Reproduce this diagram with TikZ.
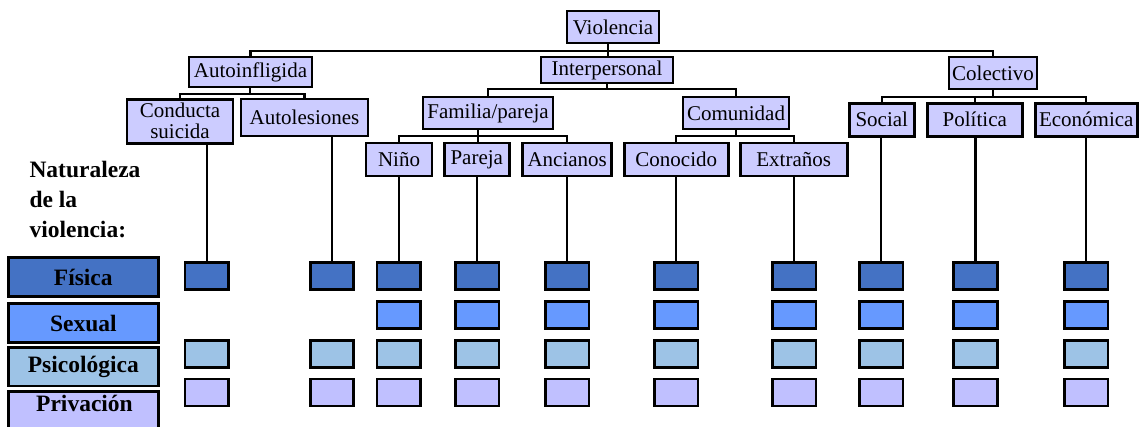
\documentclass[tikz,border=0pt]{standalone}
\usepackage{fontspec}
\setmainfont{Liberation Serif}
\definecolor{nodefill}{HTML}{CCCCFF}
\definecolor{fis}{HTML}{4472C4}
\definecolor{sex}{HTML}{6699FF}
\definecolor{psi}{HTML}{9DC3E6}
\definecolor{pri}{HTML}{C0C0FF}
\begin{document}
\begin{tikzpicture}[x=1pt,y=-1pt,
 cat/.style={draw=black, line width=2.7pt, fill=nodefill, inner sep=0pt, font=\fontsize{21}{21}\selectfont, align=center},
 conn/.style={line width=2.3pt},
 sq/.style={draw=black, line width=2.7pt, minimum width=43.5pt, minimum height=27pt, inner sep=0pt},
 leg/.style={draw=black, line width=2.7pt, minimum width=150pt, inner sep=0pt, font=\fontsize{23.5}{24}\selectfont\bfseries},
 legtxt/.style={inner sep=0pt, font=\fontsize{23.5}{24}\selectfont\bfseries}]
\useasboundingbox (0,0) rectangle (1141,427);
\clip (0,0) rectangle (1141,427);

% tree nodes
\node[cat, minimum width=92pt, minimum height=32pt] (viol) at (613,27) {Violencia};
\node[cat, minimum width=123pt, minimum height=30pt] (auto) at (250.5,72) {Autoinfligida};
\node[cat, minimum width=132pt, minimum height=26pt] (inter) at (607,70) {Interpersonal};
\node[cat, minimum width=88pt, minimum height=32pt] (colec) at (993,73) {Colectivo};
\node[cat, minimum width=106pt, minimum height=44pt] (cond) at (180,121.3) {Conducta\\suicida};
\node[cat, minimum width=127pt, minimum height=37pt] (autol) at (304.5,117.6) {Autolesiones};
\node[cat, minimum width=130pt, minimum height=32pt] (fam) at (488,113) {Familia/pareja};
\node[cat, minimum width=106pt, minimum height=32pt] (comu) at (736,113) {Comunidad};
\node[cat, minimum width=66pt, minimum height=33pt] (nino) at (399,159.5) {Niño};
\node[cat, minimum width=65pt, minimum height=33pt] (pareja) at (476.8,159.5) {Pareja};
\node[cat, minimum width=89pt, minimum height=33pt] (anc) at (567.2,159.5) {Ancianos};
\node[cat, minimum width=104pt, minimum height=33pt] (cono) at (676.3,159.5) {Conocido};
\node[cat, minimum width=107pt, minimum height=33pt] (extr) at (793.7,159.5) {Extraños};
\node[cat, minimum width=65pt, minimum height=33pt] (social) at (881.8,119.7) {Social};
\node[cat, minimum width=95pt, minimum height=33pt] (pol) at (974.8,119.7) {Política};
\node[cat, minimum width=102pt, minimum height=33pt] (eco) at (1086.3,119.7) {Económica};

% tree connectors
\coordinate (b1) at (608,50.7);
\coordinate (b2) at (250,94);
\coordinate (b3) at (607,89.3);
\coordinate (b4) at (477.7,136);
\coordinate (b5) at (736,136);
\coordinate (b6) at (975,96.7);
\draw[conn] (auto.north) |- (b1) -| (colec.north);
\draw[conn] (viol.south -| b1) -- (inter.north -| b1);
\draw[conn] (cond.north) |- (b2) -| (autol.north);
\draw[conn] (auto.south -| b2) -- (b2);
\draw[conn] (fam.north) |- (b3) -| (comu.north);
\draw[conn] (inter.south -| b3) -- (b3);
\draw[conn] (nino.north) |- (b4) -| (anc.north);
\draw[conn] (fam.south -| b4) -- (pareja.north -| b4);
\draw[conn] (cono.north) |- (b5) -| (extr.north);
\draw[conn] (comu.south -| b5) -- (b5);
\draw[conn] (social.north) |- (b6) -| (eco.north);
\draw[conn] (pol.north) -- (pol.north |- b6);
\draw[conn] (colec.south) -- (colec.south |- b6);

% small squares
\foreach \i/\x in {1/206.7,2/332,3/398.7,4/477.3,5/567.3,6/676.2,7/794.2,8/881.2,9/975.5,10/1086.3}{
  \node[sq, fill=fis] (f\i) at (\x,276) {};
  \node[sq, fill=psi] (p\i) at (\x,354.2) {};
  \node[sq, fill=pri] (v\i) at (\x,392.6) {};
}
\foreach \i/\x in {3/398.7,4/477.3,5/567.3,6/676.2,7/794.2,8/881.2,9/975.5,10/1086.3}{
  \node[sq, fill=sex] (s\i) at (\x,314.7) {};
}

% connectors to squares
\foreach \n/\i in {cond/1,autol/2,nino/3,pareja/4,anc/5,cono/6,extr/7,social/8,pol/9,eco/10}{
  \draw[conn] (\n.south -| f\i.north) -- (f\i.north);
}

% legend
\node[legtxt, anchor=north west, align=left, font=\fontsize{23.5}{30}\selectfont\bfseries] (nat) at (29.3,161) {Naturaleza\\de la\\violencia:};
\node[leg, fill=fis, minimum height=39pt] (lfis) at (83.3,277.2) {Física};
\node[leg, fill=sex, minimum height=39.4pt] (lsex) at (83.3,323) {Sexual};
\node[leg, fill=psi, minimum height=38.3pt] (lpsi) at (83.3,366.8) {Psicológica};
\node[leg, fill=pri, minimum height=40pt] (lpri) at (83.3,411.7) {};
\node[legtxt, anchor=base] (lpritxt) at (84.5,411.7) {Privación};
\end{tikzpicture}
\end{document}
